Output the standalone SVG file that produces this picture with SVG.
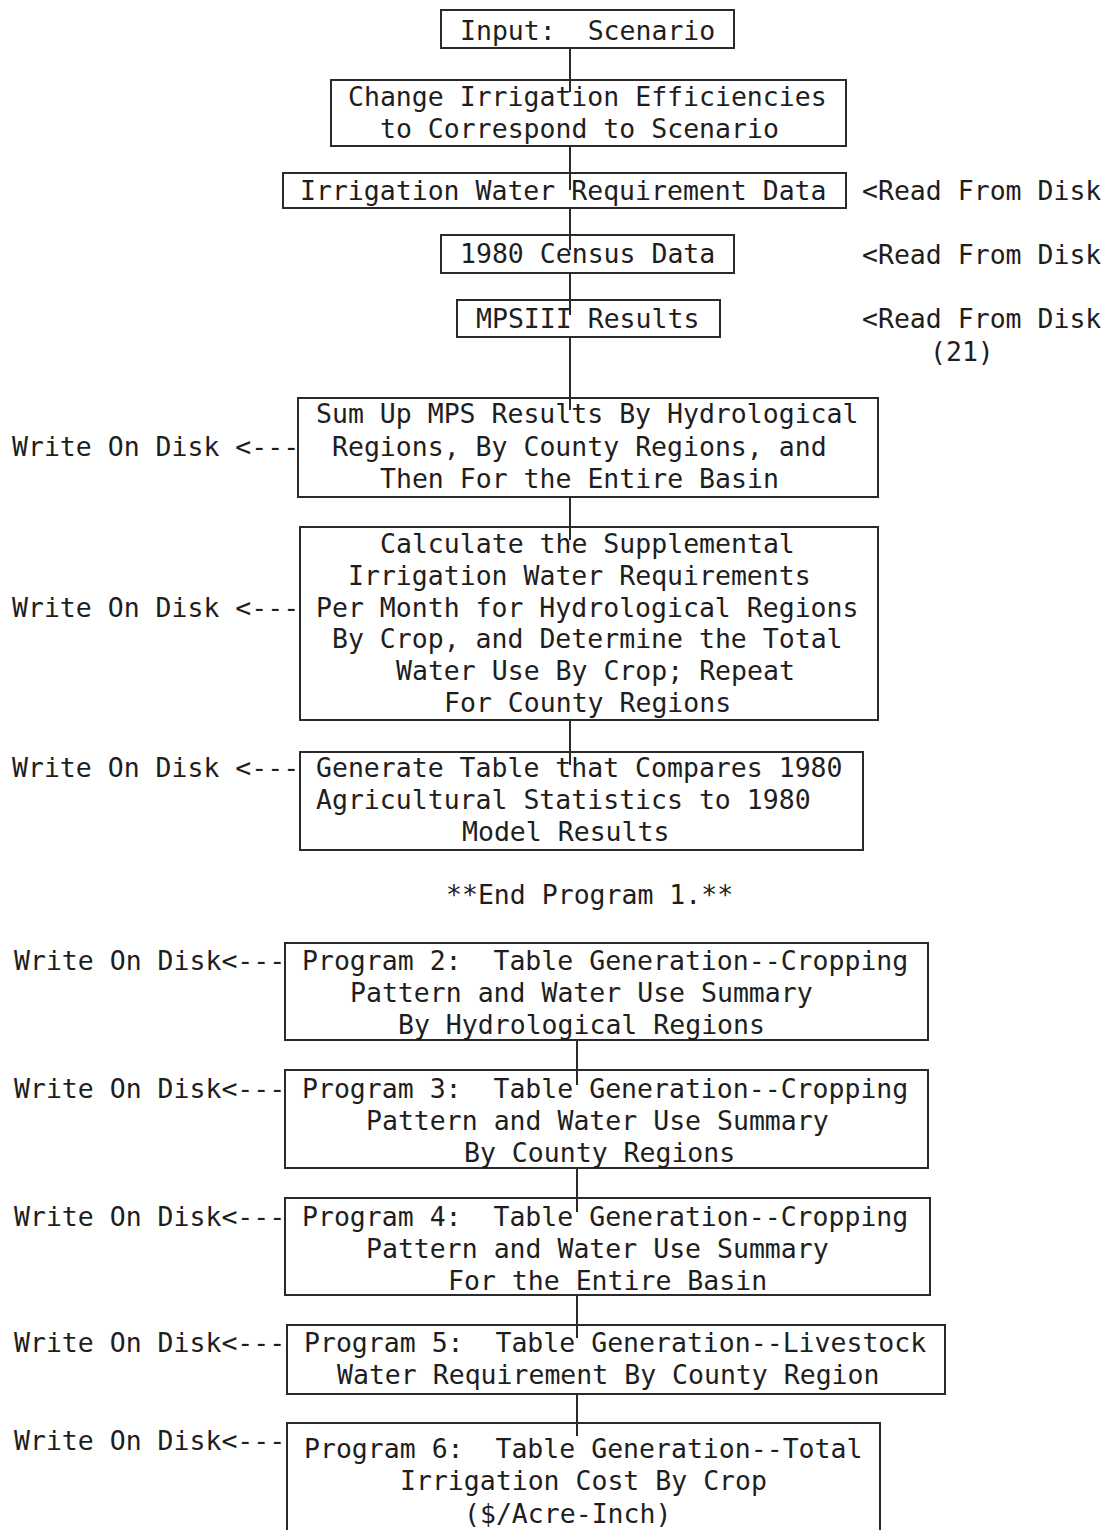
<svg xmlns="http://www.w3.org/2000/svg" width="1115" height="1530" viewBox="0 0 1115 1530">
<style>
text{font-family:"DejaVu Sans Mono","Liberation Mono",monospace;font-size:26.5px;fill:#1e1e1e}
.b{fill:none;stroke:#2a2a2a;stroke-width:2}
.c{stroke:#2a2a2a;stroke-width:2;fill:none}
</style>
<rect width="1115" height="1530" fill="#fff"/>
<g id="connectors">
<path class="c" d="M570 48V92M570 146V190M570 208V250M570 273V315M570 337V410M570 497V540M570 720V765M577 1040V1085M577 1168V1212M577 1295V1338M577 1394V1436"/>
</g>
<g id="n1"><rect class="b" x="441" y="10" width="293" height="38"/><text x="460" y="40" xml:space="preserve">Input:  Scenario</text></g>
<g id="n2"><rect class="b" x="331" y="80" width="515" height="66"/><text x="348" y="106">Change Irrigation Efficiencies</text><text x="380" y="138">to Correspond to Scenario</text></g>
<g id="n3"><rect class="b" x="283" y="173" width="563" height="35"/><text x="300" y="200">Irrigation Water Requirement Data</text><text x="862" y="200">&lt;Read From Disk</text></g>
<g id="n4"><rect class="b" x="441" y="235" width="293" height="38"/><text x="460" y="263">1980 Census Data</text><text x="862" y="264">&lt;Read From Disk</text></g>
<g id="n5"><rect class="b" x="457" y="300" width="263" height="37"/><text x="476" y="328">MPSIII Results</text><text x="862" y="328">&lt;Read From Disk</text><text x="930" y="361">(21)</text></g>
<g id="n6"><rect class="b" x="298" y="398" width="580" height="99"/><text x="316" y="423">Sum Up MPS Results By Hydrological</text><text x="332" y="456">Regions, By County Regions, and</text><text x="380" y="488">Then For the Entire Basin</text><text x="12" y="456" xml:space="preserve">Write On Disk &lt;---</text></g>
<g id="n7"><rect class="b" x="300" y="527" width="578" height="193"/><text x="380" y="553">Calculate the Supplemental</text><text x="348" y="585">Irrigation Water Requirements</text><text x="316" y="617">Per Month for Hydrological Regions</text><text x="332" y="648">By Crop, and Determine the Total</text><text x="396" y="680">Water Use By Crop; Repeat</text><text x="444" y="712">For County Regions</text><text x="12" y="617" xml:space="preserve">Write On Disk &lt;---</text></g>
<g id="n8"><rect class="b" x="300" y="752" width="563" height="98"/><text x="316" y="777">Generate Table that Compares 1980</text><text x="316" y="809">Agricultural Statistics to 1980</text><text x="462" y="841">Model Results</text><text x="12" y="777" xml:space="preserve">Write On Disk &lt;---</text></g>
<g id="end"><text x="446" y="904">**End Program 1.**</text></g>
<g id="n9"><rect class="b" x="285" y="943" width="643" height="97"/><text x="302" y="970" xml:space="preserve">Program 2:  Table Generation--Cropping</text><text x="350" y="1002">Pattern and Water Use Summary</text><text x="398" y="1034">By Hydrological Regions</text><text x="14" y="970">Write On Disk&lt;---</text></g>
<g id="n10"><rect class="b" x="285" y="1070" width="643" height="98"/><text x="302" y="1098" xml:space="preserve">Program 3:  Table Generation--Cropping</text><text x="366" y="1130">Pattern and Water Use Summary</text><text x="464" y="1162">By County Regions</text><text x="14" y="1098">Write On Disk&lt;---</text></g>
<g id="n11"><rect class="b" x="285" y="1198" width="645" height="97"/><text x="302" y="1226" xml:space="preserve">Program 4:  Table Generation--Cropping</text><text x="366" y="1258">Pattern and Water Use Summary</text><text x="448" y="1290">For the Entire Basin</text><text x="14" y="1226">Write On Disk&lt;---</text></g>
<g id="n12"><rect class="b" x="287" y="1325" width="658" height="69"/><text x="304" y="1352" xml:space="preserve">Program 5:  Table Generation--Livestock</text><text x="337" y="1384">Water Requirement By County Region</text><text x="14" y="1352">Write On Disk&lt;---</text></g>
<g id="n13"><path class="b" d="M287 1530V1423H880V1530"/><text x="304" y="1458" xml:space="preserve">Program 6:  Table Generation--Total</text><text x="400" y="1490">Irrigation Cost By Crop</text><text x="464" y="1523">($/Acre-Inch)</text><text x="14" y="1450">Write On Disk&lt;---</text></g>
</svg>
